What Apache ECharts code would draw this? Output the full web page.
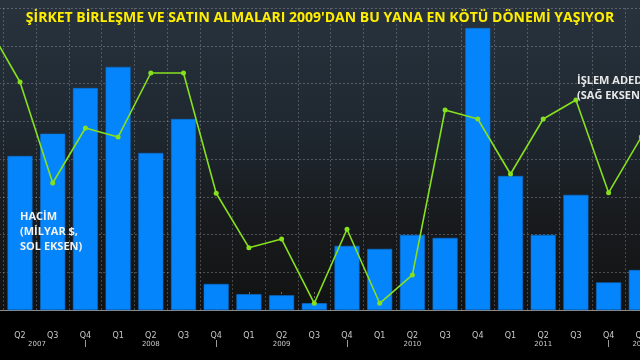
<!DOCTYPE html>
<html>
<head>
<meta charset="utf-8">
<script src="https://cdn.jsdelivr.net/npm/echarts@6/dist/echarts.min.js"></script>
<style>html,body{margin:0;padding:0;background:#000;}#c{width:640px;height:360px;}</style>
</head>
<body>
<div id="c"></div>
<script>
var quarters = ['Q1','Q2','Q3','Q4','Q1','Q2','Q3','Q4','Q1','Q2','Q3','Q4','Q1','Q2','Q3','Q4','Q1','Q2','Q3','Q4','Q1'];
var years    = ['','2007','','','','2008','','','','2009','','','','2010','','','','2011','','','2012'];
var yearSeparators = [3, 7, 11, 19];
var volume = [null, 408, 467, 588, 644, 416, 506, 69, 42, 39, 18, 170, 162, 199, 191, 747, 355, 199, 305, 73, 106];
var deals  = [9777, 9020, 7682, 8411, 8291, 9139, 9139, 7546, 6825, 6940, 6089, 7069, 6089, 6464, 8649, 8530, 7801, 8530, 8781, 7554, 8291];
var titleText = "ŞİRKET BİRLEŞME VE SATIN ALMALARI 2009'DAN BU YANA EN KÖTÜ DÖNEMİ YAŞIYOR";
var volumeLabel = 'HACİM\n(MİLYAR $,\nSOL EKSEN)';
var dealsLabel = 'İŞLEM ADEDİ\n(SAĞ EKSEN)';

var cats = quarters.map(function(q, i){ return i + ''; });
var chart = echarts.init(document.getElementById('c'));
var gridLine = {show:true, lineStyle:{color:'rgba(190,190,190,0.35)', type:[2,2], width:1}};
chart.setOption({
  animation: false,
  backgroundColor: {type:'linear', x:0, y:0, x2:0, y2:1, colorStops:[
    {offset:0, color:'#28333d'},
    {offset:0.35, color:'#1f2831'},
    {offset:0.6, color:'#181b1e'},
    {offset:0.86, color:'#121212'},
    {offset:0.862, color:'#000'},
    {offset:1, color:'#000'}
  ]},
  title: {text: titleText, left: 'center', top: 6,
    textStyle:{color:'#ffee00', fontSize:14, fontWeight:'bold', fontFamily:'Open Sans'}},
  grid: {left: -29.05, right: -17.65, top: 8, bottom: 50, outerBoundsMode: 'none', containLabel: false},
  xAxis: [{
    type:'category', data: cats, position:'bottom', offset: 20,
    axisLine:{show:true, lineStyle:{color:'#8a8a8a', width:1}},
    axisTick:{show:true, inside:true, length:20, alignWithLabel:true, interval:0, lineStyle:{color:'rgba(190,190,190,0.5)', type:[2,2]}},
    splitLine:{show:true, interval:0, lineStyle:{color:'rgba(190,190,190,0.3)', type:[2,2]}},
    axisLabel:{show:true, interval:0, margin:1, color:'#c8c8c8', fontSize:8, fontFamily:'DejaVu Sans', lineHeight:9,
      formatter:function(v){ var i=+v; var y=years[i]; var s=quarters[i];
        if (y) { s += '\n' + (i===1 ? '{p|' + y + '}' : '{y|' + y + '}'); }
        return s; },
      rich:{y:{fontSize:7, color:'#c8c8c8', lineHeight:9}, p:{fontSize:7, color:'#c8c8c8', lineHeight:9, padding:[0,0,0,34]}}}
  },{
    type:'category', data: cats, position:'bottom', offset: 30, gridIndex:0,
    axisLine:{show:false},
    axisTick:{show:true, length:7, alignWithLabel:true,
      interval:function(i){ return yearSeparators.indexOf(i) >= 0; },
      lineStyle:{color:'#9a9a9a'}},
    axisLabel:{show:false}, splitLine:{show:false}
  }],
  yAxis: [{
    type:'value', min:0, max:800, interval:100,
    axisLine:{show:false}, axisTick:{show:false}, axisLabel:{show:false},
    splitLine: gridLine
  },{
    type:'value', min:6000, max:10000, interval:500, position:'right',
    axisLine:{show:false}, axisTick:{show:false}, axisLabel:{show:false}, splitLine:{show:false}
  }],
  series: [{
    type:'bar', data: volume, xAxisIndex:0, yAxisIndex:0, barWidth:25,
    itemStyle:{color:'#0585fb', borderColor:'#0a6fd0', borderWidth:0.6}
  },{
    type:'line', data: deals, xAxisIndex:0, yAxisIndex:1,
    symbol:'circle', symbolSize:5, showSymbol:true,
    lineStyle:{color:'#86e01e', width:1.6},
    itemStyle:{color:'#86e01e'}
  }],
  graphic: [{
    type:'text', left:20, top:209, z:100,
    style:{text: volumeLabel, fill:'#f2f2f2', font:'bold 11px "Open Sans"', lineHeight:15}
  },{
    type:'text', left:577, top:73, z:100,
    style:{text: dealsLabel, fill:'#e8e8e8', font:'bold 11px "Open Sans"', lineHeight:15}
  }]
});
</script>
</body>
</html>
